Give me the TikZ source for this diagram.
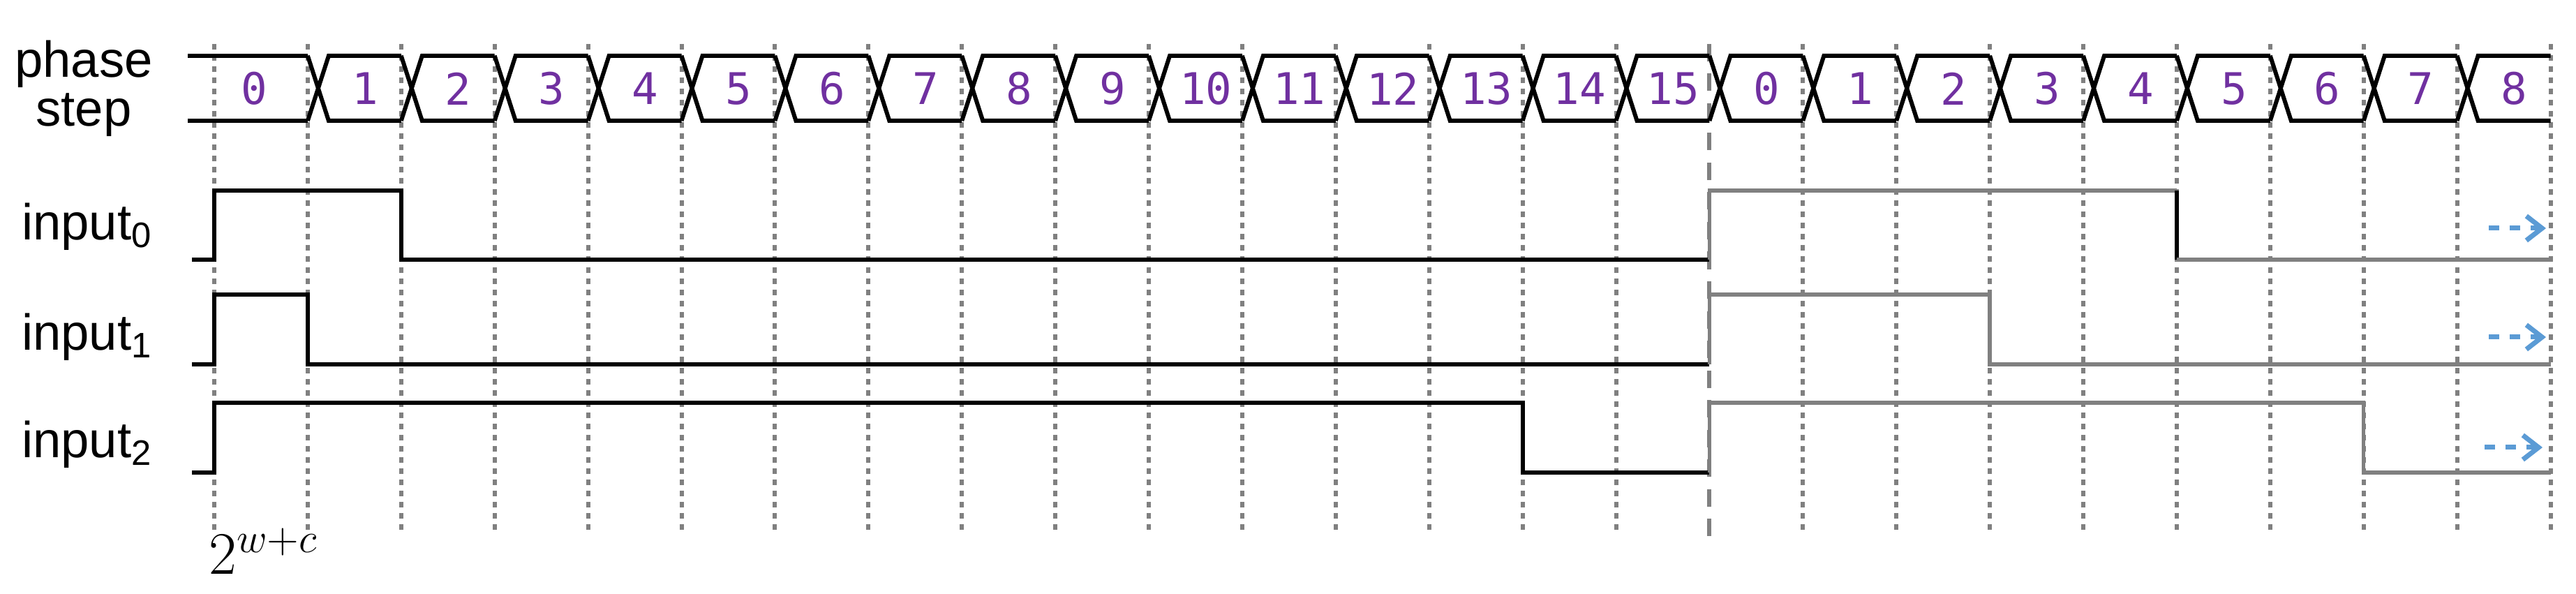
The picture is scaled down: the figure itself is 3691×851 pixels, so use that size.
\documentclass[tikz,border=0pt]{standalone}
\usepackage{fontspec}
\usetikzlibrary{arrows.meta}
\setmainfont{Liberation Sans}
\newfontfamily\digitfont{DejaVu Sans Mono}
\definecolor{purp}{HTML}{7030A0}
\definecolor{gr}{HTML}{808080}
\definecolor{arrblue}{HTML}{5B9BD5}
\begin{document}
\begin{tikzpicture}[x=0.2pt,y=-0.2pt,
  wave/.style={line width=1.2pt,black},
  gwave/.style={line width=1.1pt,gr},
  gridl/.style={gr,line width=1.2pt,dash pattern=on 1.6pt off 1.6pt},
  lbl/.style={font=\fontsize{14.5}{15}\selectfont,align=center,inner sep=0pt},
  num/.style={font=\digitfont\fontsize{12.5}{13}\selectfont,text=purp,inner sep=0pt},
  cont/.style={arrblue,line width=1.4pt,dash pattern=on 3pt off 3pt,-{Straight Barb[length=4.5pt,width=7pt]}}]
\useasboundingbox (0,0) rectangle (3691,851);
\def\sp{133.9}
% grid
\foreach \k in {0,...,25}{
  \ifnum\k=16
    \draw[gr,line width=1.2pt,dash pattern=on 5pt off 3.5pt] (307+\k*\sp,63) coordinate (gt\k) -- (307+\k*\sp,780) coordinate (gb\k);
  \else
    \draw[gridl] (307+\k*\sp,63) coordinate (gt\k) -- (307+\k*\sp,765) coordinate (gb\k);
  \fi}
% labels
\node[lbl] (lp) at (120,127) {phase\\[-1pt]step};
\node[lbl,anchor=west] (l0) at (30,325) {input\textsubscript{0}};
\node[lbl,anchor=west] (l1) at (30,483) {input\textsubscript{1}};
\node[lbl,anchor=west] (l2) at (30,637) {input\textsubscript{2}};
\node[inner sep=0pt,font=\fontsize{17}{17}\selectfont] (exp) at (378,790) {$2^{w+c}$};
% bus
\draw[wave] (269,80) -- (307+\sp,80);
\draw[wave] (269,173) -- (307+\sp,173);
\foreach \k in {1,...,24}{
  \pgfmathsetmacro\xa{307+\k*\sp}
  \pgfmathsetmacro\xb{307+(\k+1)*\sp}
  \draw[wave,line join=miter] (\xa,80) -- (\xa+30,173) -- (\xb,173);
  \draw[wave,line join=miter] (\xa,173) -- (\xa+30,80) -- (\xb,80);
}
\foreach \n [count=\i from 0] in {0,...,15,0,1,2,3,4,5,6,7,8}{
  \pgfmathsetmacro\xc{307+(\i+0.5)*\sp+(\i>0?15:-10)}
  \node[num] (n\i) at (\xc,127) {\n};
}
% input0
\draw[wave] (275,372) -- (307,372) -- (307,273) -- (307+2*\sp,273) -- (307+2*\sp,372) -- (307+16*\sp,372);
\draw[gwave] (307+16*\sp,372) -- (307+16*\sp,273) -- (307+21*\sp,273);
\draw[wave] (307+21*\sp,273) -- (307+21*\sp,372);
\draw[gwave] (307+21*\sp,372) -- (307+25*\sp,372);
% input1
\draw[wave] (275,522) -- (307,522) -- (307,422) -- (307+\sp,422) -- (307+\sp,522) -- (307+16*\sp,522);
\draw[gwave] (307+16*\sp,522) -- (307+16*\sp,422) -- (307+19*\sp,422) -- (307+19*\sp,522) -- (307+25*\sp,522);
% input2
\draw[wave] (275,677) -- (307,677) -- (307,577) -- (307+14*\sp,577) -- (307+14*\sp,677) -- (307+16*\sp,677);
\draw[gwave] (307+16*\sp,677) -- (307+16*\sp,577) -- (307+23*\sp,577) -- (307+23*\sp,677) -- (307+25*\sp,677);
% continuation arrows
\coordinate (a0s) at (3566,327); \coordinate (a0e) at (3648,327);
\coordinate (a1s) at (3566,483); \coordinate (a1e) at (3648,483);
\coordinate (a2s) at (3560,641); \coordinate (a2e) at (3643,641);
\draw[cont] (a0s) -- (a0e);
\draw[cont] (a1s) -- (a1e);
\draw[cont] (a2s) -- (a2e);
\end{tikzpicture}
\end{document}
